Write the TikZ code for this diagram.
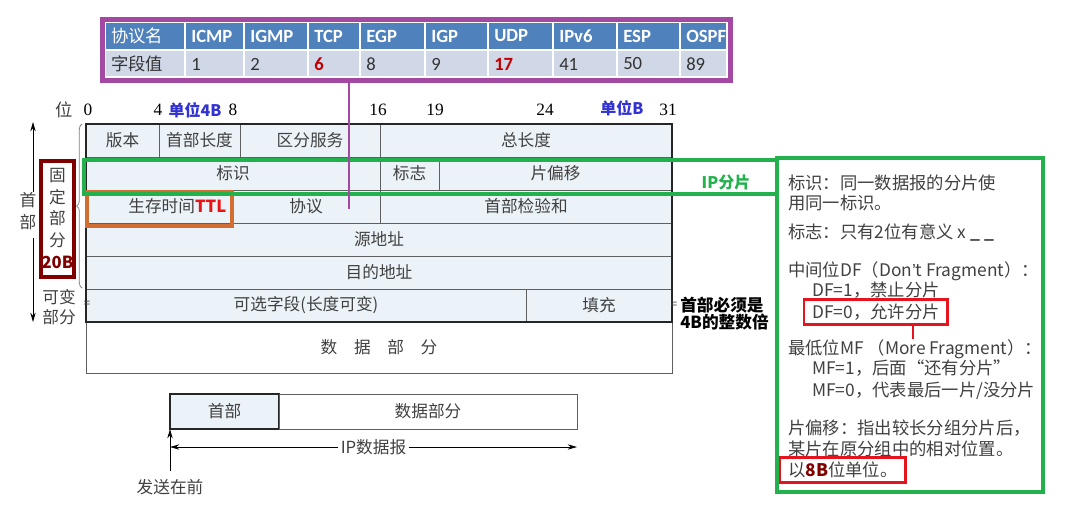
\documentclass[tikz,border=0pt]{standalone}
\usepackage{fontspec}
\setmainfont{Noto Sans CJK SC}
\newfontfamily\serifnum{Liberation Serif}
\newfontfamily\latinsans{Liberation Sans}
\newfontfamily\calibrilike{Carlito}
\usetikzlibrary{positioning,fit,arrows.meta,decorations.pathreplacing}

\definecolor{hdrblue}{RGB}{79,129,189}
\definecolor{rowblue}{RGB}{208,216,232}
\definecolor{tblpurple}{RGB}{163,73,164}
\definecolor{fragreen}{RGB}{34,177,76}
\definecolor{cellblue}{RGB}{235,243,249}
\definecolor{gridgray}{RGB}{95,95,95}
\definecolor{fixred}{RGB}{128,0,0}
\definecolor{ttlorange}{RGB}{210,110,50}
\definecolor{ttlred}{RGB}{235,20,20}
\definecolor{unitblue}{RGB}{50,50,210}
\definecolor{valred}{RGB}{192,0,0}
\definecolor{notered}{RGB}{230,20,30}
\definecolor{notegray}{RGB}{64,64,64}

\tikzset{
    hcell/.style={fill=hdrblue, draw=white, line width=0.8pt},
    vcell/.style={fill=rowblue, draw=white, line width=0.8pt},
    hlbl/.style={anchor=west, inner sep=0pt, text=white, font=\calibrilike\fontsize{14}{15}\selectfont\bfseries},
    vlbl/.style={anchor=west, inner sep=0pt, text=black!80, font=\calibrilike\fontsize{14}{15}\selectfont},
    field/.style={draw=gridgray, fill=cellblue, line width=0.7pt, outer sep=0pt, inner sep=0pt,
        minimum height=24.75pt, text=black!75, font=\fontsize{12.5}{14}\selectfont},
    bitno/.style={inner sep=0pt, font=\serifnum\fontsize{13}{15}\selectfont},
    unit/.style={inner sep=0pt, text=unitblue, font=\fontsize{12}{14}\selectfont\bfseries},
    side/.style={inner sep=0pt, align=center, text=black!75, font=\fontsize{12.5}{16.5}\selectfont},
    note/.style={inner sep=0pt, anchor=base west, text=notegray, font=\fontsize{13}{15}\selectfont},
    hlbox/.style={draw=notered, line width=2.2pt},
    arr/.style={-{Stealth[length=7pt,width=4pt]}, line width=0.6pt}
}

\begin{document}
\begin{tikzpicture}[x=0.75pt,y=-0.75pt]
\useasboundingbox (0,0) rectangle (1069,514);

% protocol numbers
\foreach \nm/\xa/\xb/\hd/\vl in {name/105/185/{\rmfamily\mdseries\fontsize{13}{15}\selectfont 协议名}/{\rmfamily\fontsize{13}{15}\selectfont 字段值},
    icmp/185/244/ICMP/1, igmp/244/308/IGMP/2, tcp/308/360/TCP/{\textcolor{valred}{\bfseries 6}},
    egp/360/425/EGP/8, igp/425/488/IGP/9, udp/488/553/UDP/{\textcolor{valred}{\bfseries 17}},
    ipv6/553/617/IPv6/41, esp/617/680/ESP/50, ospf/680/727/OSPF/89}{
    \draw[hcell] (\xa,22) rectangle (\xb,50);
    \draw[vcell] (\xa,50) rectangle (\xb,77);
    \node[hlbl] (h-\nm) at (\xa+6,36) {\hd};
    \node[vlbl] (v-\nm) at (\xa+6,64) {\vl};
}
\draw[tblpurple, line width=3.75pt] (102.5,19.5) rectangle (730,80.5);

% bit scale
\node[side, font=\fontsize{13}{15}\selectfont] (b-pos) at (64,110) {位};
\foreach \b/\xx in {0/88,4/158,8/233,16/378,19/435,24/545,31/668}
    \node[bitno] (b-\b) at (\xx,110) {\b};
\node[unit] (u-4b) at (195,110) {单位4B};
\node[unit] (u-b) at (622,108) {单位B};

% header
\node[field, minimum width=54.75pt, anchor=north west] (ver) at (86,124) {版本};
\node[field, minimum width=60.75pt, right=0pt of ver] (ihl) {首部长度};
\node[field, minimum width=105pt, right=0pt of ihl] (tos) {区分服务};
\node[field, minimum width=219pt, right=0pt of tos] (tlen) {总长度};
\node[field, minimum width=220.5pt, anchor=north west] (ident) at (ver.south west) {标识};
\node[field, minimum width=44.25pt, right=0pt of ident] (flags) {标志};
\node[field, minimum width=174.75pt, right=0pt of flags] (frag) {片偏移};
\node[field, minimum width=109.5pt, text width=101pt, align=right, anchor=north west] (ttl) at (ident.south west) {生存时间\textcolor{ttlred}{\bfseries TTL}};
\node[field, minimum width=111pt, right=0pt of ttl] (proto) {协议};
\node[field, minimum width=219pt, right=0pt of proto] (cksum) {首部检验和};
\node[field, minimum width=439.5pt, anchor=north west] (src) at (ttl.south west) {源地址};
\node[field, minimum width=439.5pt, anchor=north west] (dst) at (src.south west) {目的地址};
\node[field, minimum width=330pt, anchor=north west] (opt) at (dst.south west) {可选字段(长度可变)};
\node[field, minimum width=109.5pt, right=0pt of opt] (pad) {填充};
\node[field, fill=white, minimum width=439.5pt, minimum height=38.25pt, anchor=north west] (data) at (opt.south west) {数\quad 据\quad 部\quad 分};
\draw[black!85, line width=1.1pt] (ver.north west) rectangle (pad.south east);
\draw[ttlorange, line width=3pt] ([shift={(1,2)}]ttl.north west) rectangle ([shift={(0,3)}]ttl.south east);

% fragment strip and notes frame
\node[text=fragreen, inner sep=0pt, font=\fontsize{12}{14}\selectfont\bfseries] (fraglbl) at (726,182) {IP分片};
\draw[fragreen, line width=3.2pt] (84,160) rectangle (777,194);
\draw[fragreen, line width=3.2pt] (777,158) rectangle (1043,492);

% left side
\draw[gray, line width=0.6pt, decoration={brace, amplitude=4pt}, decorate] (82,288) -- (82,124);
\node[inner sep=0pt, text=black!70, font=\fontsize{9}{10}\selectfont] (eq-l) at (87,304) {=};
\node[inner sep=0pt, text=black!70, font=\fontsize{9}{10}\selectfont] (eq-r) at (674,305) {=};
\node[draw=fixred, line width=3pt, minimum width=25pt, minimum height=87pt, inner sep=0pt, align=center,
    text=black!75, font=\fontsize{12.5}{16.3}\selectfont] (fixed) at (57.5,218.5)
    {固\\定\\部\\分\\\textcolor{fixred}{\bfseries 20B}};
\node[side] (hdlbl) at (28,211) {首\\部};
\coordinate (hdtop) at (33,122);
\coordinate (hdbot) at (33,322);
\draw[arr] (hdlbl.north -| hdtop) -- (hdtop);
\draw[arr] ([yshift=-6pt]hdlbl.south -| hdbot) -- (hdbot);
\node[side, font=\fontsize{12.5}{15}\selectfont] (varlbl) at (59,307) {可变\\部分};
\node[inner sep=0pt, anchor=west, align=left, font=\fontsize{12.5}{13}\selectfont\bfseries] (hdrnote) at (680,313.5) {首部必须是\\4B的整数倍};

% table -> protocol field
\coordinate (tblfoot) at (349,81);
\coordinate (protomark) at (349,209);
\draw[tblpurple, line width=1.6pt] (tblfoot) -- (protomark);

% notes
\foreach \yy/\xx/\tx [count=\i] in {
    183/788/{标识：同一数据报的分片使},
    203/788/{用同一标识。},
    232/788/{标志：只有2位有意义 x \textbf{\_ \_}},
    270/788/{中间位DF（Don{\latinsans ’}t Fragment）：},
    290/812/{DF=1，禁止分片},
    312/812/{DF=0，允许分片},
    348/788/{最低位MF （More Fragment）：},
    368/812/{MF=1，后面“还有分片”},
    390/812/{MF=0，代表最后一片/没分片},
    428/788/{片偏移：指出较长分组分片后，},
    449/788/{某片在原分组中的相对位置。},
    470/788/{以\textcolor{fixred}{\bfseries 8B}位单位。}}
    \node[note] (note\i) at (\xx,\yy+6.5) {\tx};
\node[hlbox, fit=(note6), inner xsep=6pt, inner ysep=3pt] (df0box) {};
\coordinate (dfx) at (913,0);
\draw[notered, line width=2pt] (df0box.south -| dfx) -- (note7.north -| dfx);
\node[hlbox, fit=(note12), inner xsep=6pt, inner ysep=3pt] (eightb) {};

% datagram
\node[field, draw=black!85, line width=1pt, minimum width=81.75pt, minimum height=26.25pt, anchor=north west] (dghead) at (170,394) {首部};
\node[field, fill=white, minimum width=223.5pt, minimum height=26.25pt, right=0pt of dghead] (dgbody) {数据部分};
\draw[{Stealth[length=7pt,width=4pt]}-{Stealth[length=7pt,width=4pt]}, line width=0.6pt]
    ([yshift=-13.5pt]dghead.south west) -- node[fill=white, inner sep=2pt, text=black!75, font=\fontsize{12.5}{14}\selectfont] (dglbl) {IP数据报} ([yshift=-13.5pt]dgbody.south east);
\node[side] (sendfirst) at (170,487) {发送在前};
\draw[arr] ([yshift=6pt]sendfirst.north -| dghead.south west) -- (dghead.south west);
\end{tikzpicture}
\end{document}
